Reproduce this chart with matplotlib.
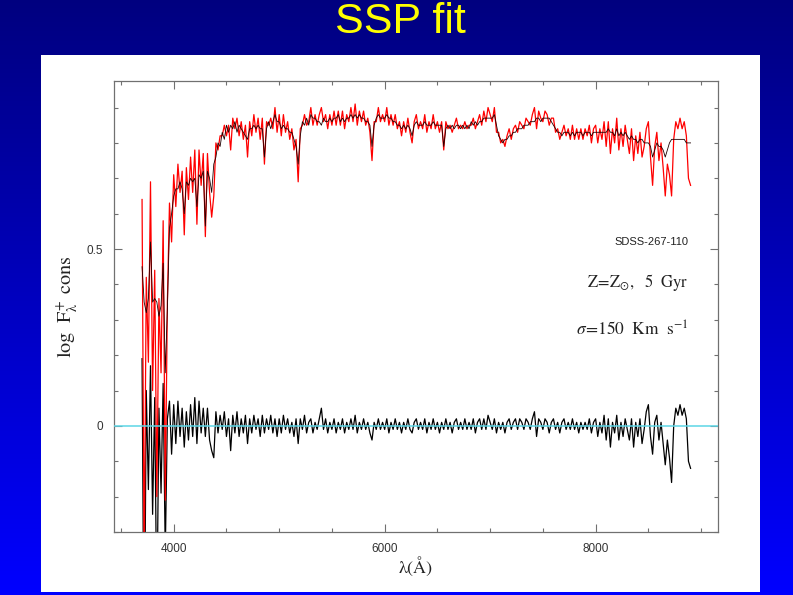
"""SSP fit slide: observed spectrum, model and residuals."""

import numpy as np
import matplotlib
matplotlib.use("Agg")
import matplotlib.pyplot as plt
from matplotlib.patches import Rectangle
from matplotlib.ticker import MultipleLocator, FuncFormatter

plt.rcParams["mathtext.fontset"] = "stix"

# wavelength grid (Angstrom), 20 A steps from 3700 to 8900
wave = np.arange(3700, 8901, 20)

# SSP model log flux (dark line)
model = [
    0.45, 0.35, 0.32, 0.36, 0.52, 0.35, 0.36, 0.35, 0.31, 0.34,
    0.46, 0.15, 0.33, 0.56, 0.60, 0.65, 0.67, 0.67, 0.69, 0.67,
    0.60, 0.69, 0.68, 0.70, 0.69, 0.70, 0.62, 0.71, 0.70, 0.72,
    0.565, 0.72, 0.70, 0.66, 0.74, 0.76, 0.80, 0.79, 0.83, 0.81,
    0.85, 0.83, 0.85, 0.84, 0.86, 0.83, 0.85, 0.84, 0.83, 0.82,
    0.81, 0.84, 0.84, 0.85, 0.84, 0.85, 0.84, 0.84, 0.76, 0.84,
    0.86, 0.84, 0.86, 0.88, 0.86, 0.86, 0.84, 0.85, 0.84, 0.84,
    0.83, 0.83, 0.81, 0.79, 0.74, 0.82, 0.86, 0.85, 0.87, 0.85,
    0.88, 0.87, 0.87, 0.86, 0.86, 0.85, 0.87, 0.86, 0.86, 0.87,
    0.86, 0.87, 0.87, 0.88, 0.86, 0.87, 0.86, 0.87, 0.87, 0.88,
    0.87, 0.88, 0.87, 0.88, 0.87, 0.87, 0.86, 0.86, 0.85, 0.79,
    0.85, 0.87, 0.88, 0.87, 0.87, 0.87, 0.88, 0.87, 0.87, 0.86,
    0.86, 0.85, 0.85, 0.84, 0.85, 0.84, 0.85, 0.84, 0.82, 0.85,
    0.86, 0.85, 0.85, 0.85, 0.86, 0.85, 0.85, 0.85, 0.86, 0.85,
    0.85, 0.85, 0.85, 0.79, 0.84, 0.85, 0.84, 0.85, 0.84, 0.85,
    0.85, 0.84, 0.85, 0.84, 0.85, 0.84, 0.86, 0.85, 0.86, 0.85,
    0.86, 0.86, 0.87, 0.87, 0.87, 0.87, 0.87, 0.88, 0.85, 0.82,
    0.81, 0.80, 0.81, 0.81, 0.82, 0.82, 0.83, 0.83, 0.84, 0.84,
    0.84, 0.85, 0.85, 0.85, 0.86, 0.86, 0.86, 0.87, 0.87, 0.86,
    0.87, 0.87, 0.87, 0.87, 0.86, 0.85, 0.84, 0.83, 0.83, 0.82,
    0.83, 0.83, 0.83, 0.82, 0.83, 0.82, 0.83, 0.83, 0.83, 0.82,
    0.83, 0.83, 0.83, 0.82, 0.83, 0.83, 0.83, 0.83, 0.83, 0.83,
    0.83, 0.84, 0.83, 0.83, 0.82, 0.84, 0.82, 0.83, 0.82, 0.83,
    0.82, 0.81, 0.82, 0.81, 0.81, 0.80, 0.81, 0.81, 0.80, 0.80,
    0.80, 0.79, 0.76, 0.78, 0.80, 0.79, 0.79, 0.78, 0.76, 0.78,
    0.80, 0.81, 0.81, 0.81, 0.81, 0.81, 0.81, 0.81, 0.80, 0.80,
    0.80,
]

# residuals obs - model (black, bottom)
resid = [
    0.19, -0.75, 0.10, -0.18, 0.17, -0.25, 0.08, -0.55, 0.05, -0.19,
    0.12, -0.36, 0.02, 0.07, -0.08, 0.06, -0.05, 0.07, -0.03, 0.05,
    -0.06, 0.04, -0.04, 0.06, -0.03, 0.08, -0.05, 0.07, -0.02, 0.05,
    -0.03, 0.05, -0.04, -0.07, -0.09, 0.04, -0.02, 0.03, -0.01, 0.04,
    -0.03, 0.02, -0.07, 0.03, -0.02, 0.04, -0.03, 0.02, -0.02, 0.03,
    -0.05, 0.02, -0.02, 0.03, -0.01, 0.02, -0.03, 0.03, -0.02, 0.02,
    -0.01, 0.03, -0.02, 0.02, -0.03, 0.02, -0.02, 0.03, -0.01, 0.02,
    -0.02, 0.01, -0.03, 0.02, -0.05, 0.02, -0.01, 0.03, -0.02, 0.01,
    0.02, -0.02, 0.01, -0.01, 0.02, 0.05, -0.01, 0.02, -0.02, 0.01,
    -0.01, 0.02, -0.02, 0.01, -0.01, 0.02, -0.02, 0.01, -0.01, 0.02,
    -0.01, 0.03, -0.02, 0.01, -0.01, 0.02, -0.01, 0.01, -0.02, -0.04,
    0.01, -0.01, 0.02, -0.01, 0.01, -0.01, 0.02, -0.02, 0.01, -0.01,
    0.02, -0.01, 0.01, -0.02, 0.01, -0.01, 0.02, -0.01, -0.02, 0.01,
    0.02, -0.01, 0.01, -0.01, 0.02, -0.02, 0.01, -0.01, 0.02, -0.01,
    0.01, -0.02, 0.01, -0.01, 0.02, -0.01, 0.01, -0.02, 0.01, 0.02,
    -0.01, 0.01, -0.01, 0.02, -0.01, 0.01, -0.01, 0.02, -0.02, 0.01,
    0.02, -0.01, 0.02, -0.01, 0.03, 0.01, -0.01, 0.02, -0.02, 0.01,
    -0.01, 0.01, -0.02, 0.01, 0.02, -0.01, 0.01, 0.02, -0.01, 0.02,
    0.01, -0.01, 0.02, 0.01, -0.01, 0.02, 0.04, -0.03, 0.02, 0.01,
    -0.01, 0.02, 0.01, -0.02, 0.01, 0.02, -0.01, 0.01, -0.02, 0.01,
    0.02, -0.01, 0.01, -0.01, 0.02, -0.01, 0.01, -0.02, 0.01, -0.01,
    0.01, -0.01, 0.02, -0.02, 0.01, 0.02, -0.03, 0.01, -0.02, 0.03,
    -0.04, 0.02, -0.06, 0.01, -0.02, 0.03, -0.04, 0.01, -0.03, 0.02,
    -0.01, -0.04, 0.02, -0.06, 0.01, -0.03, 0.02, -0.05, -0.01, 0.04,
    0.06, -0.03, -0.08, 0.01, 0.03, -0.04, 0.01, -0.05, -0.11, -0.04,
    -0.09, -0.16, 0.00, 0.05, 0.03, 0.06, 0.03, 0.05, 0.02, -0.10,
    -0.12,
]

model = np.array(model)
resid = np.array(resid)
obs = model + resid

W, H = 793, 595
fig = plt.figure(figsize=(W / 100, H / 100), dpi=100)

# blue slide background, dark at the top
bg = fig.add_axes([0, 0, 1, 1], zorder=-10)
grad = np.linspace(0, 1, 256).reshape(-1, 1)
top = np.array([0.0, 0.0, 0.50])
bottom = np.array([0.0, 0.0, 1.0])
img = top + (bottom - top) * grad[..., None]
bg.imshow(img, aspect="auto", extent=[0, 1, 0, 1], origin="upper")
bg.set_axis_off()

fig.patches.append(Rectangle((41 / W, 1 - 592 / H), (760 - 41) / W, (592 - 55) / H,
                             transform=fig.transFigure, facecolor="white",
                             edgecolor="none", zorder=-5))

fig.text(400 / W, 1 - 22 / H, "SSP fit", color="#ffff00", fontsize=31,
         family="Liberation Sans", ha="center", va="center")

ax = fig.add_axes([114 / W, 1 - 532 / H, (718 - 114) / W, (532 - 81) / H])
ax.set_facecolor("white")

ax.plot(wave, resid, color="black", lw=0.9, zorder=2)
ax.plot(wave, obs, color="#ff0000", lw=0.9, zorder=3)
ax.plot(wave, model, color="#200000", lw=0.6, zorder=4)
ax.axhline(0, color="#5cd6e6", lw=1.1, zorder=5)

ax.set_xlim(3434, 9160)
ax.set_ylim(-0.3, 0.975)

ax.xaxis.set_major_locator(MultipleLocator(2000))
ax.xaxis.set_minor_locator(MultipleLocator(500))
ax.yaxis.set_major_locator(MultipleLocator(0.5))
ax.yaxis.set_minor_locator(MultipleLocator(0.1))
ax.yaxis.set_major_formatter(FuncFormatter(lambda v, p: "%g" % v))

ax.tick_params(which="both", direction="in", top=True, right=True,
               color="#707070", width=0.8, labelsize=8.5, labelcolor="#333333",
               pad=8)
ax.tick_params(which="major", length=6)
ax.tick_params(which="minor", length=3)
for lab in ax.get_xticklabels() + ax.get_yticklabels():
    lab.set_family("Liberation Sans")
for sp in ax.spines.values():
    sp.set_color("#707070")
    sp.set_linewidth(0.9)

ax.set_xlabel(r"$\mathrm{\lambda(\AA)}$", fontsize=13, color="#222222", labelpad=-0.5)
ax.set_ylabel(r"$\mathrm{log\ \ F_{\lambda}^{\!+}\ cons}$", fontsize=14.5,
              color="#222222", labelpad=5)

ax.text(8880, 0.52, "SDSS-267-110", fontsize=8, family="Liberation Sans",
        color="#222222", ha="right", va="center")
ax.text(8880, 0.405, r"$\mathrm{Z\!=\!Z_{\odot},\ \ 5\ \ Gyr}$", fontsize=12,
        color="#222222", ha="right", va="center")
ax.text(8880, 0.27, r"$\sigma\!=\!\mathrm{150\ \ Km\ \ s^{-1}}$", fontsize=12.5,
        color="#222222", ha="right", va="center")

fig.savefig("out.png", dpi=100)
